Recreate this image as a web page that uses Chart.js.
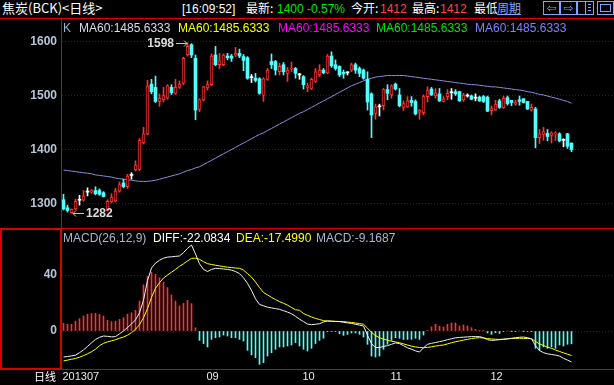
<!DOCTYPE html>
<html><head><meta charset="utf-8">
<script src="https://cdn.jsdelivr.net/npm/chart.js@4.4.0/dist/chart.umd.min.js"></script>
<style>
html,body{margin:0;padding:0;background:#000;width:614px;height:385px;overflow:hidden;}
#wrap{position:relative;width:614px;height:385px;background:#000;font-family:"Liberation Sans","Noto Sans CJK SC",sans-serif;}
canvas{position:absolute;left:0;}
.t{position:absolute;white-space:nowrap;font-size:12px;line-height:14px;z-index:5;}
.c{font-family:"Noto Sans CJK SC",sans-serif;}
.ln{position:absolute;background:#d80000;z-index:6;}
.btn{position:absolute;top:1px;height:14px;border:1px solid #7ea6ff;box-sizing:border-box;z-index:6;color:#7ea6ff;font:12px/12px "DejaVu Sans",sans-serif;text-align:center;}
</style></head><body>
<div id="wrap">
<canvas id="main" width="614" height="209" style="top:19px;width:614px;height:209px"></canvas>
<canvas id="macd" width="614" height="157" style="top:228px;width:614px;height:157px"></canvas>

<div class="t c" style="left:2px;top:1px;font-size:13px;color:#fff">焦炭(BCK)&lt;日线&gt;</div>
<div class="t" style="left:182px;top:2px;color:#fff">[16:09:52]</div>
<div class="t c" style="left:246px;top:1px;color:#fff">最新:</div>
<div class="t" style="left:277px;top:2px;color:#00e600">1400</div>
<div class="t" style="left:307px;top:2px;color:#00e600">-0.57%</div>
<div class="t c" style="left:351px;top:1px;color:#fff">今开:</div>
<div class="t" style="left:380px;top:2px;color:#ff4646">1412</div>
<div class="t c" style="left:412px;top:1px;color:#fff">最高:</div>
<div class="t" style="left:440px;top:2px;color:#ff4646">1412</div>
<div class="t c" style="left:474px;top:1px;color:#fff;width:23px;overflow:hidden">最低</div>
<div class="t c" style="left:497px;top:1px;color:#7ea6ff;text-decoration:underline">周期</div>
<div class="btn" style="left:543px;width:17px">&#8678;</div>
<div class="btn" style="left:560px;width:17px">&#8680;</div>
<div class="btn" style="left:577px;width:17px"><div style="position:absolute;left:7px;top:0;width:1px;height:12px;background:#7ea6ff"></div><div style="position:absolute;left:10px;top:2px;width:3px;height:1px;background:#7ea6ff"></div><div style="position:absolute;left:10px;top:5px;width:3px;height:1px;background:#7ea6ff"></div><div style="position:absolute;left:10px;top:8px;width:3px;height:1px;background:#7ea6ff"></div></div>
<div class="btn" style="left:597px;width:17px"><div style="position:absolute;left:2px;top:2px;width:11px;height:8px;border:1px solid #7ea6ff;box-sizing:border-box"></div></div>

<div class="t" style="left:63px;top:21px;color:#a0b0c8">K</div>
<div class="t" style="left:79px;top:21px;color:#d8dce8">MA60:1485.6333</div>
<div class="t" style="left:178px;top:21px;color:#ffff00">MA60:1485.6333</div>
<div class="t" style="left:278px;top:21px;color:#ff00ff">MA60:1485.6333</div>
<div class="t" style="left:376px;top:21px;color:#00e600">MA60:1485.6333</div>
<div class="t" style="left:475px;top:21px;color:#8080ff">MA60:1485.6333</div>

<div class="t" style="left:63px;top:231px;color:#a8b8d0">MACD(26,12,9)</div>
<div class="t" style="left:153px;top:231px;color:#ffffff">DIFF:-22.0834</div>
<div class="t" style="left:236px;top:231px;color:#ffff00">DEA:-17.4990</div>
<div class="t" style="left:316px;top:231px;color:#a8b8d0">MACD:-9.1687</div>

<div class="t c" style="left:34px;top:369px;font-size:11px;color:#fff">日线</div>

<div class="ln" style="left:0;top:18px;width:614px;height:1px"></div>
<div class="ln" style="left:61px;top:18px;width:1px;height:352px"></div>
<div class="ln" style="left:0;top:228px;width:614px;height:1px"></div>
<div class="ln" style="left:0;top:369px;width:614px;height:1px"></div>
<div style="position:absolute;left:0;top:228px;width:62px;height:142px;border:2px solid #d80000;box-sizing:border-box;z-index:6"></div>
</div>
<script>
// ---- data ----
const candleIndex = Array.from({length:128},(_,i)=>i+1);
const open  = [1307,1292,1283,1290,1306,1306,1321,1321,1324,1324,1320,1287,1303,1305,1323,1338,1331,1352,1362,1363,1412,1429,1521,1515,1489,1492,1495,1515,1504,1515,1523,1575,1594,1569,1474,1492,1514,1520,1575,1557,1557,1573,1573,1575,1578,1572,1570,1533,1532,1531,1500,1530,1563,1563,1544,1557,1541,1549,1550,1538,1535,1515,1513,1526,1538,1547,1542,1573,1557,1554,1543,1542,1547,1557,1550,1547,1530,1503,1467,1479,1481,1511,1501,1521,1501,1478,1479,1491,1489,1469,1468,1498,1512,1499,1503,1489,1498,1505,1507,1507,1492,1499,1499,1495,1497,1498,1497,1472,1473,1490,1477,1496,1491,1484,1492,1494,1489,1473,1475,1422,1428,1430,1426,1429,1429,1417,1429,1412];
const high  = [1317,1297,1290,1308,1315,1324,1329,1326,1331,1327,1322,1307,1318,1328,1340,1345,1354,1357,1379,1420,1441,1528,1530,1536,1503,1515,1520,1520,1530,1527,1571,1598,1596,1575,1494,1517,1527,1577,1591,1578,1577,1578,1576,1589,1586,1576,1572,1539,1541,1533,1533,1550,1577,1565,1560,1561,1552,1562,1552,1541,1537,1523,1532,1550,1557,1550,1576,1581,1566,1555,1547,1544,1560,1560,1553,1549,1544,1505,1484,1484,1513,1520,1520,1523,1513,1490,1498,1498,1492,1474,1501,1516,1515,1513,1513,1498,1511,1513,1511,1508,1504,1503,1501,1503,1499,1500,1499,1481,1491,1493,1499,1499,1491,1491,1499,1494,1489,1484,1478,1437,1441,1437,1433,1433,1431,1420,1430,1412];
const low   = [1288,1284,1282,1288,1297,1304,1314,1319,1316,1315,1312,1286,1301,1303,1321,1329,1328,1345,1360,1361,1410,1427,1503,1487,1480,1488,1493,1502,1502,1513,1520,1573,1570,1455,1470,1490,1510,1518,1555,1550,1555,1566,1563,1572,1570,1546,1530,1524,1525,1502,1489,1528,1550,1538,1538,1538,1526,1544,1532,1530,1512,1507,1511,1524,1535,1540,1540,1552,1547,1535,1532,1538,1544,1541,1535,1530,1473,1422,1456,1462,1473,1492,1495,1510,1479,1472,1478,1480,1464,1456,1464,1488,1500,1495,1489,1488,1492,1493,1500,1489,1489,1497,1492,1490,1489,1487,1470,1464,1472,1476,1476,1482,1481,1482,1482,1486,1474,1471,1403,1411,1417,1416,1412,1417,1414,1405,1402,1396];
const close = [1290,1287,1289,1304,1306,1314,1321,1324,1318,1317,1313,1304,1312,1323,1335,1331,1351,1352,1371,1417,1429,1518,1507,1489,1495,1500,1518,1505,1515,1521,1569,1591,1575,1473,1492,1516,1520,1573,1557,1564,1575,1570,1569,1578,1573,1565,1532,1533,1528,1504,1531,1547,1557,1547,1554,1544,1547,1551,1541,1538,1520,1518,1530,1544,1547,1542,1573,1555,1550,1538,1540,1542,1557,1547,1541,1532,1488,1464,1479,1479,1511,1504,1518,1512,1481,1485,1490,1487,1466,1473,1498,1509,1501,1505,1490,1494,1504,1505,1503,1490,1501,1499,1493,1495,1490,1489,1471,1476,1484,1478,1495,1485,1487,1488,1489,1487,1475,1478,1422,1429,1433,1424,1431,1431,1416,1417,1406,1400];
const ma60  = [1362,1361,1360,1359,1358,1357,1356,1355,1353,1352,1351,1350,1349,1347,1346,1345,1344,1343,1342,1341,1341,1341,1342,1343,1345,1347,1349,1351,1353,1355,1358,1361,1363,1366,1368,1372,1376,1380,1384,1388,1392,1396,1400,1404,1408,1412,1416,1420,1424,1428,1431,1435,1439,1443,1447,1451,1455,1459,1463,1467,1470,1474,1478,1482,1486,1490,1494,1498,1502,1506,1510,1514,1518,1521,1524,1527,1530,1532,1534,1535,1536,1537,1537,1537,1537,1537,1536,1535,1534,1533,1532,1531,1530,1529,1528,1527,1526,1525,1524,1523,1522,1521,1520,1520,1519,1518,1517,1516,1516,1515,1514,1513,1512,1511,1510,1509,1507,1506,1504,1502,1501,1499,1497,1495,1493,1491,1489,1485.6];
const diff  = [-18.6,-18.2,-17.8,-17.2,-15.5,-13.5,-11,-8.5,-6,-4.5,-3.6,-3.8,-4.2,-4,-2,0,2.5,5,8,13,22,36,45,48.5,50.5,52,52.8,53,53.3,53.6,56,59,61.4,55,48,44,42.5,44,44.8,44.6,44.3,44,43.5,42.5,41,38,34,29,23,19,18,17,16.5,16,15.5,14.5,13.5,12.3,10.5,8.5,6.7,5,4.5,4.8,5.2,6.5,7.2,7,6.8,6.7,6.2,5.8,5.4,4.8,4.2,3.6,-3,-9,-11.9,-11.8,-11,-10.5,-9.5,-8.5,-9,-10.5,-12,-13,-14.2,-15,-12,-9.5,-8.8,-8.2,-7.6,-7,-6.2,-5.5,-4.9,-4.6,-4.4,-4.2,-4,-4,-4,-4.8,-6.2,-6.7,-6.5,-6.2,-6,-5.6,-5.2,-4.8,-4.5,-4.3,-4.8,-5.6,-10.5,-14,-15.5,-16.3,-16.8,-17.2,-17.9,-19.5,-20.8,-22.08];
const dea   = [-21.4,-20.8,-20.2,-19.6,-18.7,-17.6,-16.3,-14.8,-13,-10.5,-8.8,-7.8,-7,-6.2,-5.2,-4.3,-3,-1.2,1.2,4.5,9.5,16,24,30.5,34.5,37.8,40,42,44,46.2,48,50,51.9,52,51.2,49.5,48.1,47.5,47,46.5,46,45.6,45.3,45,44.8,43.5,41,38.5,35,31,27.5,25.8,24,22.5,21,19.8,18.5,16.8,15.2,14.8,12.5,11.2,10,9,8.2,7.4,7.1,7,6.9,6.8,6.7,6.4,6.1,5.7,5.3,4.8,2,-1,-3.3,-4.8,-5.8,-6.6,-7.3,-7.8,-8.4,-9.2,-10,-10.8,-11.4,-11.8,-11.9,-11.7,-11.3,-10.8,-10.3,-10,-9.2,-8.4,-7.7,-7.1,-6.5,-6,-5.4,-5,-4.8,-5,-5.4,-5.7,-5.9,-6,-5.8,-5.6,-5.4,-5.3,-5.2,-5.3,-5.4,-5.5,-7.5,-9.2,-10.4,-11.5,-12.4,-13.6,-14.6,-15.6,-16.6,-17.5];
const macd  = [5.5,4.8,4.8,7,8.8,10.7,12,12.4,12.6,12,10.7,7.6,6.7,7,8.3,9.5,12,13,14.8,21.4,33,39,42,40.5,38,35,31,25.7,21.4,17.9,19.8,21.9,19.5,2.4,-6.7,-9,-11.4,-6,-4.8,-4.3,-2.9,-3.6,-4.8,-4.8,-6,-7.1,-13.8,-17.1,-19,-23.8,-22.6,-17.9,-15.5,-13.1,-11.4,-11.4,-10.7,-10,-8.3,-10.7,-13,-14.3,-12.4,-9,-6.7,-5.2,-0.5,-0.3,-0.5,-1.9,-3.1,-2.4,-1.4,-1.4,-2.4,-4.3,-9.5,-17.9,-18.6,-17.9,-13.1,-9.5,-6.7,-4.8,-5.2,-6,-6,-6,-5.2,-6,-2.9,0.5,2.9,4.8,3.3,2.9,4.8,5.7,5.7,3.6,4.3,3.6,2.4,1.2,0.5,0.2,-1.4,-2.4,-1.2,-1.7,-0.2,0,-0.1,-0.2,0,-0.1,-0.3,-0.5,-12.4,-13.8,-11.4,-12.4,-11.4,-12.4,-10,-10.7,-9.5,-9.17];
const priceTicks = [1300,1400,1500,1600];
const macdTicks = [0,40];
const monthTickIndex = [1,37,61,83,108];
const monthTickLabels = ['201307','09','10','11','12'];

// ---- style ----
const RED='#ff3232', CYAN='#54fcfc', WHITE='#ffffff', AXIS='#b8c4d8', GRID='#840000';
const X_MIN=0.625, X_MAX=138.625;
const P_MAX=1600+22.5/0.54, P_MIN=1600-(209-22.5)/0.54;
const M_MAX=103/1.4, M_MIN=-(140-103)/1.4;

const dir = close.map((c,i)=> c>open[i]?1:(c<open[i]?-1:0));
const cColor = dir.map(d=> d>0?RED:(d<0?CYAN:WHITE));
const axisFont = {family:'Liberation Sans', size:12, weight:'bold'};

function arrow(ctx,x1,y,x2){
  ctx.beginPath(); ctx.moveTo(x1,y); ctx.lineTo(x2,y);
  const s = x2>x1?-1:1;
  ctx.moveTo(x2+s*3,y-3); ctx.lineTo(x2,y); ctx.lineTo(x2+s*3,y+3);
  ctx.stroke();
}
const annot = {id:'annot', afterDatasetsDraw(chart){
  const {ctx, scales:{x,y}} = chart;
  let hi=0, lo=0;
  high.forEach((v,i)=>{ if(v>high[hi]) hi=i; });
  low.forEach((v,i)=>{ if(v<low[lo]) lo=i; });
  ctx.save();
  ctx.font='bold 12px "Liberation Sans"'; ctx.fillStyle='#dcdcdc'; ctx.strokeStyle='#c8c8c8'; ctx.lineWidth=1; ctx.textBaseline='middle';
  const hx = x.getPixelForValue(candleIndex[hi]) - 0.5, hy = Math.round(y.getPixelForValue(high[hi]))+0.5;
  arrow(ctx, hx-11, hy, hx);
  ctx.textAlign='right'; ctx.fillText(String(high[hi]), hx-13, hy);
  const lx = x.getPixelForValue(candleIndex[lo]) + 1.5, ly = Math.round(y.getPixelForValue(low[lo]))+0.5;
  arrow(ctx, lx+11, ly, lx);
  ctx.textAlign='left'; ctx.fillText(String(low[lo]), lx+13, ly);
  ctx.restore();
}};

new Chart(document.getElementById('main'), {
  type:'bar',
  data:{datasets:[
    {label:'body', data:candleIndex.map((x,i)=>({x, y:[open[i],close[i]]})),
     backgroundColor:dir.map((d,i)=>d>0?'#000000':cColor[i]), borderColor:cColor,
     borderWidth:dir.map(d=>d>0?1:0), borderSkipped:false, barThickness:3, maxBarThickness:3, minBarLength:1, grouped:false, order:1},
    {label:'wick', data:candleIndex.map((x,i)=>({x, y:[low[i],high[i]]})),
     backgroundColor:cColor, borderWidth:0, barThickness:1, maxBarThickness:1, minBarLength:1, grouped:false, order:2},
    {type:'line', label:'MA60', data:candleIndex.map((x,i)=>({x, y:ma60[i]})),
     borderColor:'#8c8cdc', borderWidth:1, pointRadius:0, tension:0, order:3}
  ]},
  options:{responsive:false, animation:false, devicePixelRatio:1, events:[], layout:{padding:0},
    plugins:{legend:{display:false}, tooltip:{enabled:false}},
    scales:{
      x:{type:'linear', min:X_MIN, max:X_MAX, offset:false, display:false, bounds:'data'},
      y:{type:'linear', position:'left', min:P_MIN, max:P_MAX, bounds:'data',
         afterBuildTicks:s=>{s.ticks=priceTicks.map(v=>({value:v}));},
         afterFit:s=>{s.width=62; s.paddingTop=0; s.paddingBottom=0;},
         ticks:{color:AXIS, font:axisFont, padding:5, callback:v=>String(v)},
         grid:{color:GRID, drawTicks:false, lineWidth:1},
         border:{display:false, dash:[1,2]}}
    }},
  plugins:[annot]
});

new Chart(document.getElementById('macd'), {
  type:'bar',
  data:{datasets:[
    {type:'line', label:'DIFF', data:candleIndex.map((x,i)=>({x, y:diff[i]})), borderColor:'#f0f0f0', borderWidth:1, pointRadius:0, tension:0, order:1},
    {type:'line', label:'DEA', data:candleIndex.map((x,i)=>({x, y:dea[i]})), borderColor:'#ffff00', borderWidth:1, pointRadius:0, tension:0, order:2},
    {label:'MACD', data:candleIndex.map((x,i)=>({x, y:macd[i]})), backgroundColor:macd.map(v=>v>=0?RED:CYAN), borderWidth:0, barThickness:1, maxBarThickness:1, grouped:false, order:3}
  ]},
  options:{responsive:false, animation:false, devicePixelRatio:1, events:[], layout:{padding:0},
    plugins:{legend:{display:false}, tooltip:{enabled:false}},
    scales:{
      x:{type:'linear', min:X_MIN, max:X_MAX, offset:false, position:'bottom', bounds:'data',
         afterBuildTicks:s=>{s.ticks=monthTickIndex.map(v=>({value:v}));},
         afterFit:s=>{s.height=17; s.paddingLeft=0; s.paddingRight=0;},
         ticks:{align:'start', labelOffset:-1, padding:2, color:'#e8e8e8', font:{family:'Liberation Sans', size:11}, maxRotation:0, minRotation:0, autoSkip:false,
                callback:(v,i)=>monthTickLabels[i]},
         grid:{display:false, drawTicks:false}, border:{display:false}},
      y:{type:'linear', position:'left', min:M_MIN, max:M_MAX, bounds:'data',
         afterBuildTicks:s=>{s.ticks=macdTicks.map(v=>({value:v}));},
         afterFit:s=>{s.width=62; s.paddingTop=0; s.paddingBottom=0;},
         ticks:{color:AXIS, font:axisFont, padding:5, callback:v=>String(v)},
         grid:{color:GRID, drawTicks:false, lineWidth:1},
         border:{display:false, dash:[1,2]}}
    }}
});
</script>
</body></html>
